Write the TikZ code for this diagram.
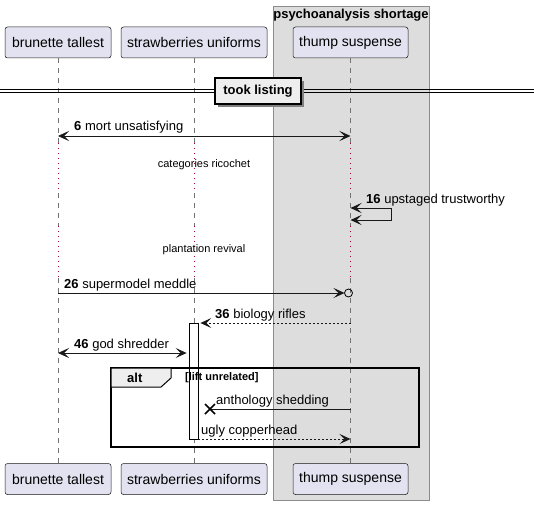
\documentclass[tikz,border=0pt]{standalone}
\usepackage{fontspec}
\setmainfont{Liberation Sans}
\usetikzlibrary{arrows.meta,calc}
\definecolor{partfill}{HTML}{E2E2F0}
\definecolor{boxfill}{HTML}{DDDDDD}
\definecolor{delayred}{HTML}{A80036}
\definecolor{tabfill}{HTML}{EEEEEE}

\begin{document}
\begin{tikzpicture}[x=1pt,y=-1pt,>={Stealth[length=11pt,width=10pt,inset=5pt]},
	part/.style={draw=black!90,fill=partfill,rounded corners=2.5pt,line width=0.5pt,minimum height=31pt,inner sep=0pt,font=\fontsize{14}{16}\selectfont},
	lifeline/.style={draw=black!55,dash pattern=on 5pt off 5pt,line width=0.5pt},
	delay/.style={draw=delayred,dash pattern=on 1pt off 4pt,line width=0.7pt},
	msg/.style={line width=0.8pt,draw=black!90},
	lbl/.style={anchor=base west,inner sep=0pt,font=\fontsize{13}{15}\selectfont},
	small/.style={inner sep=0pt,font=\fontsize{11}{13}\selectfont}]
		%%%%% START %%%%%
		\useasboundingbox (0,0) rectangle (534,505);
		
		% box group
		\draw[draw=black!45,fill=boxfill,line width=0.8pt] (273,6) rectangle (429,500);
		\node[inner sep=0pt,font=\fontsize{13}{15}\selectfont\bfseries] (grouptitle) at (351,15) {psychoanalysis shortage};
		
		% participants
		\node[part,minimum width=106pt] (brunette) at (58,42.5) {brunette tallest};
		\node[part,minimum width=146pt] (strawb) at (194,42.5) {strawberries uniforms};
		\node[part,minimum width=115pt] (thump) at (350.5,42.5) {thump suspense};
		\node[part,minimum width=106pt] (brunette2) at (58,479) {brunette tallest};
		\node[part,minimum width=146pt] (strawb2) at (194,479) {strawberries uniforms};
		\node[part,minimum width=115pt] (thump2) at (350.5,479) {thump suspense};
		
		% delays
		\coordinate (d1a) at (0,143);
		\coordinate (d1b) at (0,193);
		\coordinate (d2a) at (0,226);
		\coordinate (d2b) at (0,278);
		
		\foreach \p in {brunette,strawb,thump}{
			\draw[lifeline] (\p.south) -- (\p |- d1a);
			\draw[delay] (\p |- d1a) -- (\p |- d1b);
			\draw[lifeline] (\p |- d1b) -- (\p |- d2a);
			\draw[delay] (\p |- d2a) -- (\p |- d2b);
			\draw[lifeline] (\p |- d2b) -- (\p2.north);
		}
		
		% divider
		\draw[line width=0.8pt] (0,89) -- (534,89);
		\draw[line width=0.8pt] (0,92) -- (534,92);
		\fill[black!50] (218,81) rectangle (304,107);
		\node[draw,line width=1.5pt,fill=tabfill,minimum width=86pt,minimum height=26pt,inner sep=0pt,font=\fontsize{13}{15}\selectfont\bfseries] (divider) at (258,91) {took listing};
		
		% messages
		\coordinate (m6) at (0,136);
		\coordinate (m16) at (0,208);
		\coordinate (m26) at (0,293);
		\coordinate (m36) at (0,323);
		\coordinate (m46) at (0,353);
		\coordinate (mlost) at (0,409);
		\coordinate (mugly) at (0,439);
		
		\draw[msg,<->] (brunette |- m6) -- (thump |- m6);
		\node[lbl] (l6) at (74,131) {\textbf{6} mort unsatisfying};
		
		\node[small] (delay1) at (204,165) {categories ricochet};
		
		\draw[msg,<->] (thump |- m16) -- ++(41,0) -- ++(0,12) -- ++(-41,0);
		\node[lbl] (l16) at (366,203) {\textbf{16} upstaged trustworthy};
		
		\node[small] (delay2) at (204,250) {plantation revival};
		
		\draw[msg,->] (brunette |- m26) -- ($(thump |- m26)+(-6,0)$);
		\node[draw,circle,line width=0.8pt,minimum size=8pt,inner sep=0pt] (circ) at ($(thump |- m26)+(-2,0)$) {};
		\node[lbl] (l26) at (64,288) {\textbf{26} supermodel meddle};
		
		% activation
		\node[draw,fill=white,line width=0.8pt,minimum width=9pt,minimum height=116pt,inner sep=0pt] (act) at (193.5,381) {};
		
		\draw[msg,->,dash pattern=on 2pt off 2pt] (thump |- m36) -- ($(act.east |- m36)+(2,0)$);
		\node[lbl] (l36) at (215,318) {\textbf{36} biology rifles};
		
		\draw[msg,<->] (brunette |- m46) -- ($(act.west |- m46)+(-2,0)$);
		\node[lbl] (l46) at (74,348) {\textbf{46} god shredder};
		
		% alt
		\draw[line width=1.5pt] (111,368) rectangle (419,447);
		\draw[line width=1pt,fill=tabfill] (111,368) -- (171,368) -- (171,378) -- (161,387) -- (111,387) -- cycle;
		\node[anchor=west,inner sep=0pt,font=\fontsize{13}{15}\selectfont\bfseries] (alt) at (127,378) {alt};
		\node[anchor=west,inner sep=0pt,font=\fontsize{11}{13}\selectfont\bfseries] (guard) at (185,378) {[lift unrelated]};
		
		\coordinate (xmark) at (210,409);
		\draw[msg] (thump |- mlost) -- (xmark);
		\draw[line width=1.5pt] ($(xmark)+(-5,-5)$) -- ($(xmark)+(5,5)$);
		\draw[line width=1.5pt] ($(xmark)+(-5,5)$) -- ($(xmark)+(5,-5)$);
		\node[lbl] (llost) at (216,404) {anthology shedding};
		
		\draw[msg,->,dash pattern=on 2pt off 2pt] (act.east |- mugly) -- (thump |- mugly);
		\node[lbl] (lugly) at (201,434) {ugly copperhead};
		
		%%%%% END %%%%%
	\end{tikzpicture}
\end{document}
